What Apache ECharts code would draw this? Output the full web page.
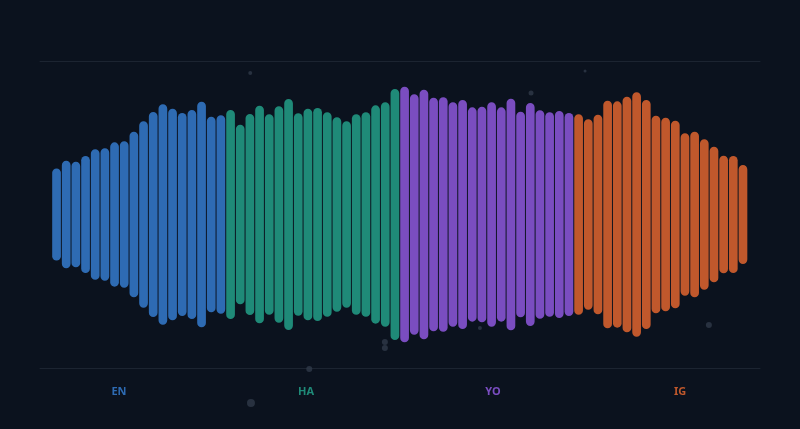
<!DOCTYPE html>
<html lang="en">

<head>
    <meta charset="UTF-8">
    <title>Language waveform</title>
    <script src="https://cdn.jsdelivr.net/npm/echarts@6/dist/echarts.min.js"></script>
    <style>
        html, body { margin: 0; padding: 0; background: #0b121e; }
        #main { width: 800px; height: 429px; }
    </style>
</head>

<body>
    <div id="main"></div>

    <script>
        // group names and colours
        var groups = ['EN', 'HA', 'YO', 'IG'];
        var groupColors = ['#2e6bb3', '#1f8a78', '#7a4dc0', '#c0582c'];

        // half-amplitude of each bar (percent of the frame height)
        var enValues = [30, 35, 34.4, 38.1, 42.5, 43.1, 47, 47.7, 53.9, 60.7, 66.8, 71.8, 68.9, 66.1, 68.1, 73.5, 63.7, 64.6];
        var haValues = [68.1, 58.5, 65.5, 70.9, 65.3, 70.5, 75.2, 65.9, 68.9, 69.4, 66.6, 63.3, 60.7, 65.3, 66.6, 71.1, 73.1, 81.8];
        var yoValues = [83.3, 78.3, 81.3, 76.1, 76.4, 73.1, 74.6, 69.8, 70.2, 73.1, 69.8, 75.4, 67, 72.6, 67.9, 66.6, 67.4, 66.1];
        var igValues = [65.3, 62, 65, 74.1, 73.7, 76.7, 79.6, 74.6, 64.4, 63.1, 61.1, 52.9, 53.9, 49, 44.2, 38.3, 38.1, 32.2];

        // faint background specks (x: percent of width, y: same scale as bars)
        var speckX = [29.2, 75.7, 68.2, 47.9, 47.9, 37.4, 29.3, 61.1, 92.9];
        var speckY = [92.2, 93.5, 79.2, -83.1, -87, -100.7, -122.8, -73.9, -72];
        var speckSize = [4, 3, 5, 6, 6, 6, 8, 4, 6];

        var allGroups = [enValues, haValues, yoValues, igValues];
        var slots = [];
        var n = 0;
        allGroups.forEach(function (g) { n += g.length; });
        for (var i = 0; i < n; i++) slots.push(String(i));

        function renderBar(params, api) {
            var x = api.value(0);
            var v = api.value(1);
            var top = api.coord([x, v]);
            var bot = api.coord([x, -v]);
            var w = api.size([1, 0])[0] * 0.9;
            return {
                type: 'rect',
                shape: { x: top[0] - w / 2, y: top[1], width: w, height: bot[1] - top[1], r: w / 2 },
                style: { fill: api.visual('color') }
            };
        }

        var series = [];
        var offset = 0;
        allGroups.forEach(function (g, gi) {
            var data = [];
            for (var k = 0; k < g.length; k++) data.push([offset + k, g[k]]);
            offset += g.length;
            series.push({
                name: groups[gi],
                type: 'custom',
                xAxisIndex: 0,
                yAxisIndex: 0,
                renderItem: renderBar,
                itemStyle: { color: groupColors[gi] },
                data: data,
                z: 3
            });
        });

        var specks = [];
        for (var s = 0; s < speckX.length; s++) {
            specks.push({ value: [speckX[s], speckY[s]], symbolSize: speckSize[s] });
        }
        series.unshift({
            type: 'scatter',
            xAxisIndex: 1,
            yAxisIndex: 1,
            clip: false,
            silent: true,
            itemStyle: { color: '#2f3949' },
            data: specks,
            z: 1
        });

        var myChart = echarts.init(document.getElementById('main'));
        var option = {
            backgroundColor: '#0b121e',
            animation: false,
            grid: [
                { left: 51.7, right: 52.2, top: 61, bottom: 61 },
                { left: 40, right: 40, top: 61, bottom: 61 },
                { left: 25.5, right: 26.5, top: 383, bottom: 45 }
            ],
            xAxis: [
                {
                    gridIndex: 0, type: 'category', data: slots,
                    axisLine: { show: false }, axisTick: { show: false }, axisLabel: { show: false }
                },
                {
                    gridIndex: 1, type: 'value', min: 0, max: 100,
                    axisLine: { show: true, onZero: false, lineStyle: { color: '#1c2431', width: 1 } },
                    axisTick: { show: false }, axisLabel: { show: false }, splitLine: { show: false }
                },
                {
                    gridIndex: 1, type: 'value', position: 'top', min: 0, max: 100,
                    axisLine: { show: true, onZero: false, lineStyle: { color: '#1c2431', width: 1 } },
                    axisTick: { show: false }, axisLabel: { show: false }, splitLine: { show: false }
                },
                {
                    gridIndex: 2, type: 'category', data: groups,
                    axisLine: { show: false }, axisTick: { show: false },
                    axisLabel: {
                        margin: 2,
                        fontFamily: 'Noto Sans',
                        fontSize: 11,
                        fontWeight: 'bold',
                        color: function (value, index) { return groupColors[index]; }
                    }
                }
            ],
            yAxis: [
                { gridIndex: 0, type: 'value', min: -100, max: 100, show: false },
                { gridIndex: 1, type: 'value', min: -100, max: 100, show: false },
                { gridIndex: 2, type: 'value', show: false }
            ],
            series: series
        };
        myChart.setOption(option);
    </script>
</body>

</html>
